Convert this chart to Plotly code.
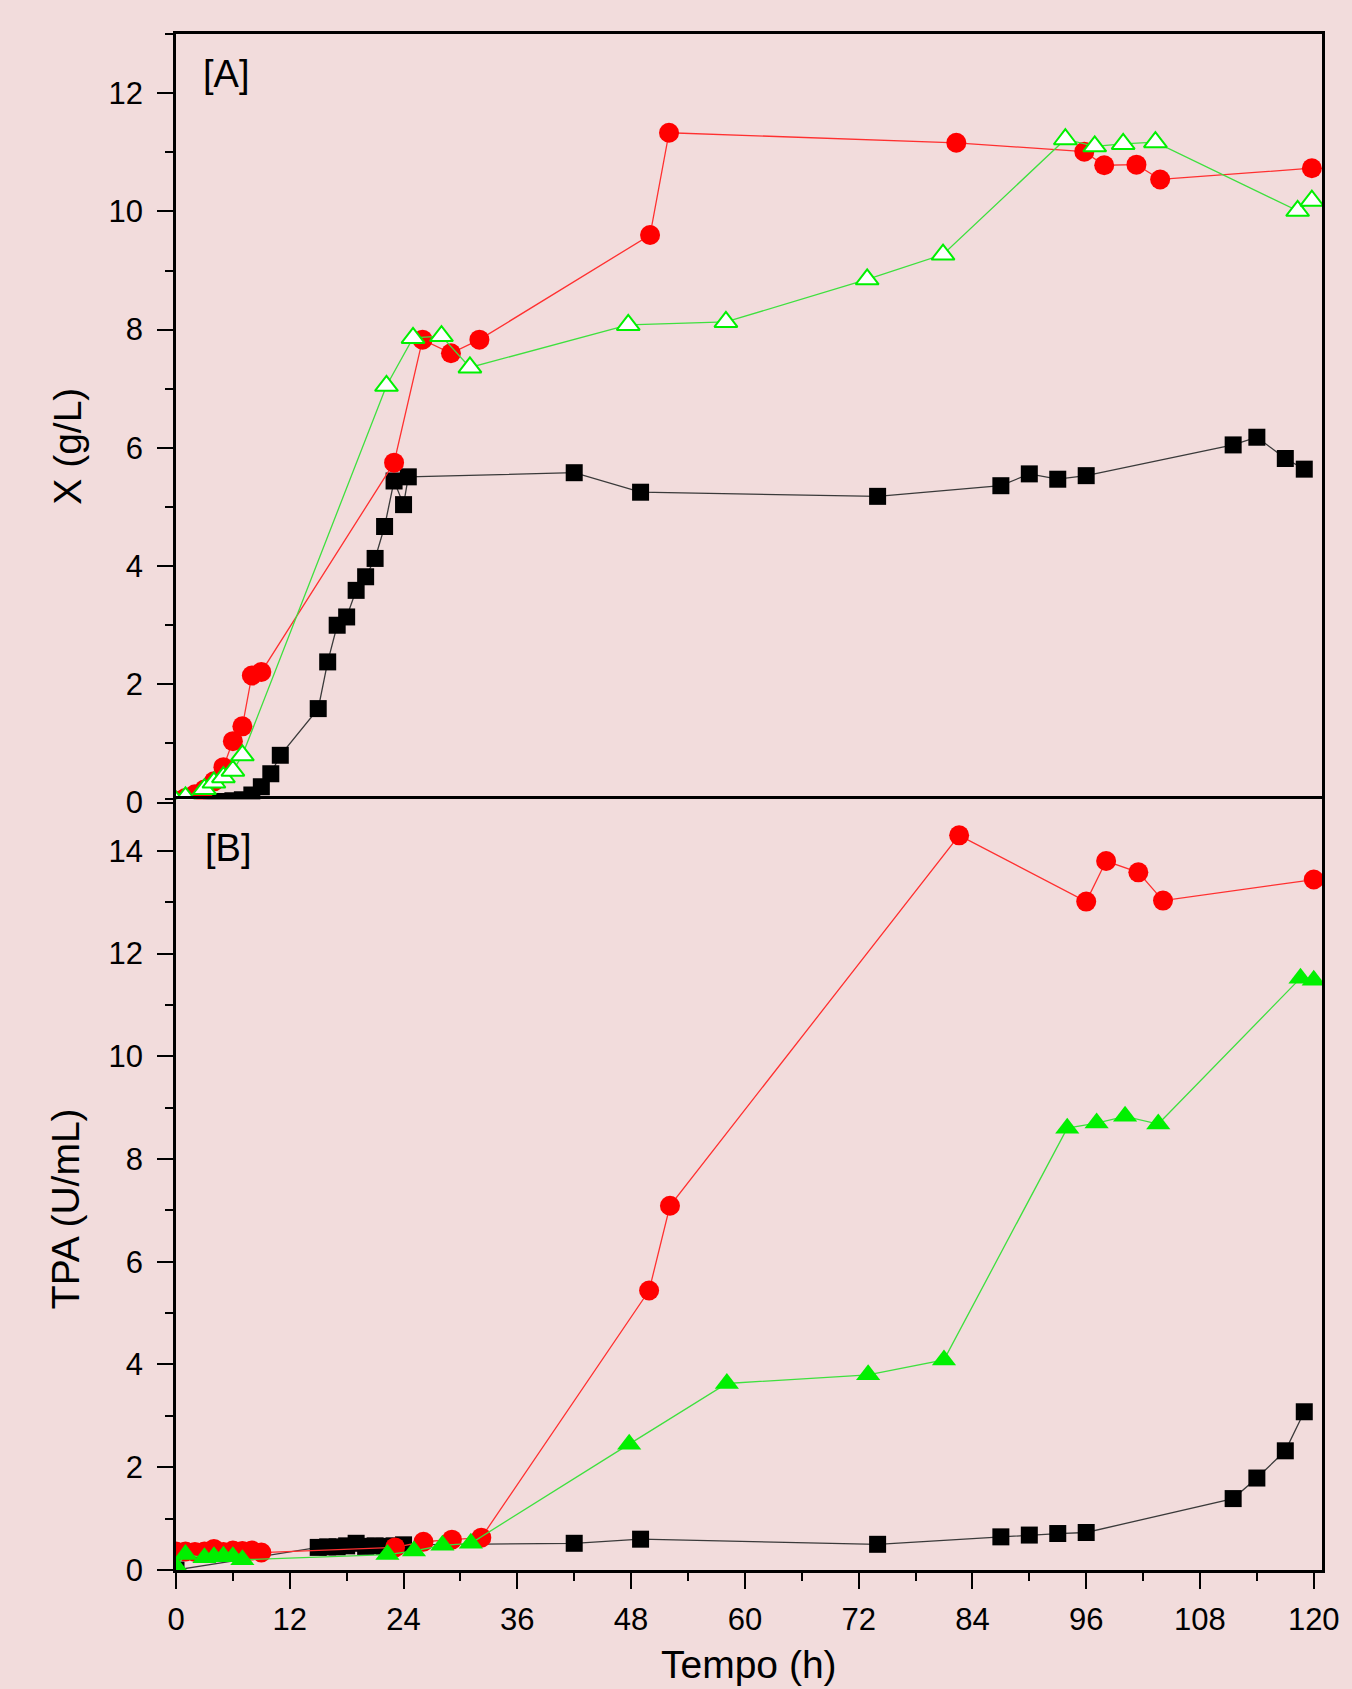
import plotly.graph_objects as go

# ---------------- Panel A : biomass X (g/L) ----------------
tA_black = [0, 1, 2, 3, 4, 5, 6, 7, 8, 9, 10, 11, 15, 16, 17, 18, 19, 20, 21, 22, 23, 24, 24.5,
            42, 49, 74, 87, 90, 93, 96, 111.5, 114, 117, 119]
xA_black = [0.0, 0.0, 0.01, 0.01, 0.02, 0.02, 0.03, 0.05, 0.13, 0.27, 0.49, 0.80, 1.59, 2.38, 3.00, 3.14,
            3.59, 3.82, 4.13, 4.67, 5.44, 5.04, 5.51,
            5.58, 5.25, 5.18, 5.36, 5.56, 5.47, 5.53, 6.05, 6.18, 5.82, 5.64]

tA_red = [0, 1, 2, 3, 4, 5, 6, 7, 8, 9, 23, 26, 29, 32, 50, 52, 82.3, 95.8, 97.9, 101.3, 103.8, 119.8]
xA_red = [0.03, 0.08, 0.14, 0.22, 0.36, 0.60, 1.04, 1.29, 2.15, 2.21, 5.75, 7.83, 7.60, 7.83, 9.60, 11.33,
          11.16, 11.01, 10.78, 10.79, 10.54, 10.73]

tA_green = [0, 1, 3, 4, 5, 6, 7, 22.2, 25, 28, 31, 47.7, 58, 72.9, 80.9, 93.8, 96.9, 99.9, 103.3, 118.3, 119.8]
xA_green = [0.02, 0.09, 0.23, 0.34, 0.43, 0.54, 0.80, 7.05, 7.86, 7.89, 7.36, 8.08, 8.13, 8.85, 9.27,
            11.22, 11.10, 11.14, 11.17, 10.01, 10.18]

# ---------------- Panel B : TPA (U/mL) ----------------
tB_black = [0, 15, 16, 17, 18, 19, 20, 21, 22, 23, 24, 42, 49, 74, 87, 90, 93, 96, 111.5, 114, 117, 119]
yB_black = [0.0, 0.44, 0.45, 0.45, 0.47, 0.52, 0.46, 0.47, 0.46, 0.47, 0.49, 0.52, 0.60, 0.50, 0.645,
            0.68, 0.71, 0.73, 1.39, 1.79, 2.32, 3.08]

tB_red = [0, 1, 2, 3, 4, 5, 6, 7, 8, 9, 23.1, 26.1, 29.1, 32.2, 49.9, 52.1, 82.6, 96.0, 98.1, 101.5, 104.1, 120.0]
yB_red = [0.36, 0.36, 0.35, 0.36, 0.41, 0.35, 0.38, 0.37, 0.38, 0.34, 0.44, 0.55, 0.59, 0.63, 5.44, 7.09,
          14.30, 13.01, 13.80, 13.58, 13.03, 13.44]

tB_green = [0, 1, 3, 4, 5, 6, 7, 22.3, 25.1, 28.1, 31.1, 47.8, 58.1, 73.0, 81.0, 94.0, 97.1, 100.1, 103.6, 118.6, 120.0]
yB_green = [0.07, 0.30, 0.24, 0.26, 0.27, 0.26, 0.20, 0.30, 0.37, 0.48, 0.52, 2.45, 3.63, 3.80, 4.09,
            8.60, 8.70, 8.83, 8.68, 11.52, 11.48]

x_ticks = [0, 12, 24, 36, 48, 60, 72, 84, 96, 108, 120]

BG = "#f2dcdc"
FONT = "Liberation Sans, Arial, sans-serif"
RED_M, RED_L = "#ff0000", "#ff3030"
GRN_M, GRN_L = "#00f000", "#3ee03e"
BLK_M, BLK_L = "#000000", "#3a3a3a"

fig = go.Figure()

def add(x, y, xa, ya, symbol, size, mcolor, lcolor, fill=None, mline=0):
    fig.add_trace(go.Scatter(
        x=x, y=y, xaxis=xa, yaxis=ya, mode="lines+markers",
        line=dict(color=lcolor, width=1.3),
        marker=dict(symbol=symbol, size=size, color=fill if fill else mcolor,
                    line=dict(color=mcolor, width=mline)),
        showlegend=False, hoverinfo="skip"))

# Panel A
add(tA_black, xA_black, "x", "y", "square", 17, BLK_M, BLK_L)
add(tA_red, xA_red, "x", "y", "circle", 20, RED_M, RED_L)
add(tA_green, xA_green, "x", "y", "triangle-up", 20, GRN_M, GRN_L, fill="white", mline=2)
# Panel B
add(tB_black, yB_black, "x2", "y2", "square", 17, BLK_M, BLK_L)
add(tB_red, yB_red, "x2", "y2", "circle", 20, RED_M, RED_L)
add(tB_green, yB_green, "x2", "y2", "triangle-up", 21, GRN_M, GRN_L)

axis_common = dict(showline=True, linecolor="black", linewidth=2.5, mirror=True,
                   showgrid=False, zeroline=False, ticks="outside", ticklen=16,
                   tickwidth=2, tickcolor="black",
                   tickfont=dict(family=FONT, size=31, color="black"))
XR = [0, 120.87]

fig.update_layout(
    width=1352, height=1689,
    paper_bgcolor=BG, plot_bgcolor=BG,
    margin=dict(l=176, r=28, t=34, b=119),
    font=dict(family=FONT, color="black"),
    xaxis=dict(axis_common, anchor="y", domain=[0, 1], range=XR, tickvals=x_ticks,
               showticklabels=False,
               minor=dict(dtick=6, tick0=0, ticks="outside", ticklen=8, tickwidth=2, tickcolor="black")),
    yaxis=dict(axis_common, anchor="x", domain=[0.4996, 1], range=[0, 13], dtick=2, tick0=0,
               ticklabelstandoff=8,
               minor=dict(dtick=1, tick0=0, ticks="outside", ticklen=8, tickwidth=2, tickcolor="black")),
    xaxis2=dict(axis_common, anchor="y2", domain=[0, 1], range=XR, tickvals=x_ticks,
                ticktext=[str(v) for v in x_ticks], ticklabelstandoff=4,
                minor=dict(dtick=6, tick0=0, ticks="outside", ticklen=8, tickwidth=2, tickcolor="black")),
    yaxis2=dict(axis_common, anchor="x2", domain=[0, 0.5017], range=[0, 15], dtick=2, tick0=0,
                ticklabelstandoff=8,
                minor=dict(dtick=1, tick0=0, ticks="outside", ticklen=8, tickwidth=2, tickcolor="black")),
)

ann_font = dict(family=FONT, size=38, color="black")
fig.add_annotation(text="[A]", xref="x", yref="y", x=2.6, y=12.32, xanchor="left", yanchor="middle",
                   showarrow=False, font=ann_font)
fig.add_annotation(text="[B]", xref="x2", yref="y2", x=2.8, y=14.06, xanchor="left", yanchor="middle",
                   showarrow=False, font=ann_font)
title_font = dict(family=FONT, size=39, color="black")
fig.add_annotation(text="X (g/L)", xref="paper", yref="paper", x=(67 - 176) / 1148, y=(1570 - 446.5) / 1536,
                   xanchor="center", yanchor="middle", textangle=-90, showarrow=False, font=title_font)
fig.add_annotation(text="TPA (U/mL)", xref="paper", yref="paper", x=(65 - 176) / 1148, y=(1570 - 1209) / 1536,
                   xanchor="center", yanchor="middle", textangle=-90, showarrow=False, font=title_font)
fig.add_annotation(text="Tempo (h)", xref="paper", yref="paper", x=0.5, y=(1570 - 1688) / 1536,
                   xanchor="center", yanchor="bottom", showarrow=False, font=title_font)

fig.write_html("out.html", config={"displayModeBar": False},
               post_script="document.body.style.margin='0px';document.body.style.overflow='hidden';")
